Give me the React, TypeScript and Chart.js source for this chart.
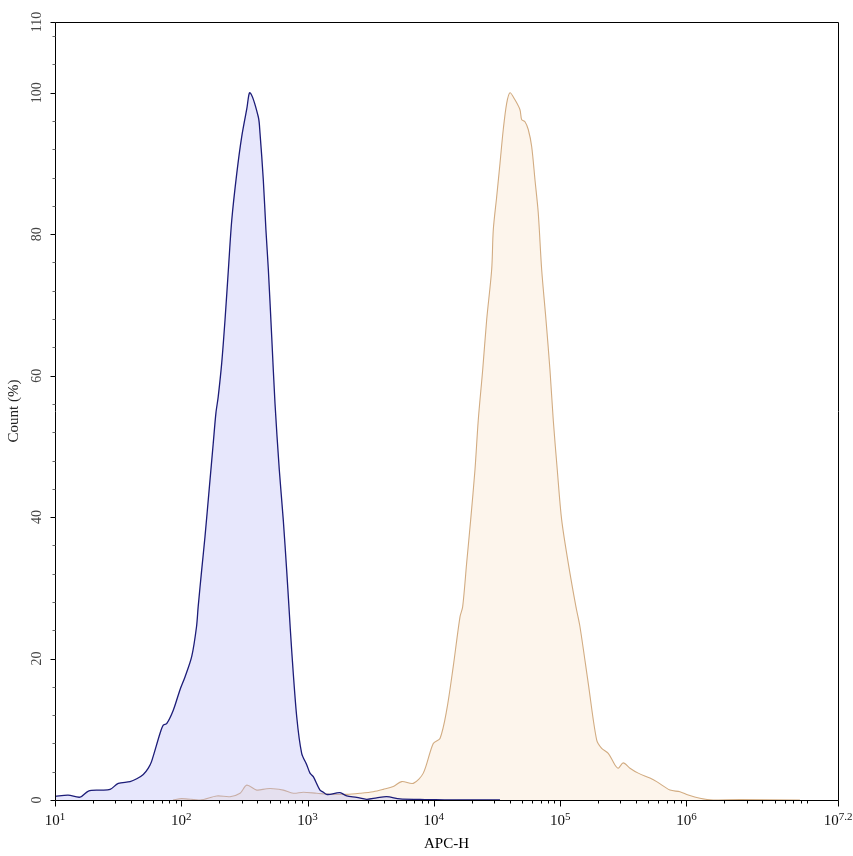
import React, { useEffect, useRef } from "react";
import { Chart, registerables } from "chart.js";

Chart.register(...registerables);

// APC-H intensity (x) and Count (%) (y) for the first (blue) histogram
const blueX = [10, 12.7, 15.8, 18.4, 22.7, 27.3, 31.7, 39.3, 44.4, 50, 54.8, 58.3, 67.8, 72, 76.6, 86.4, 97.7, 107, 121, 132, 136, 145, 154, 167, 179, 188, 196, 209, 222, 236, 251, 275, 301, 330, 350, 407, 420, 446, 468, 489, 520, 552, 597, 642, 683, 712, 748, 820, 898, 984, 1045, 1110, 1254, 1332, 1416, 1504, 1806, 2040, 2448, 2938, 3525, 4230, 5390, 7762, 9314, 13410, 19310, 33380];
const blueY = [0.5, 0.7, 0.4, 1.27, 1.4, 1.5, 2.35, 2.6, 3.0, 3.6, 4.5, 5.5, 9.4, 10.6, 10.8, 12.7, 15.6, 17.4, 20.3, 24.5, 27.3, 32.5, 37.2, 44.3, 50.4, 54.7, 57, 61.8, 67.9, 75, 82, 88.6, 93.8, 97.7, 100, 96.6, 94.3, 87.7, 80.6, 75, 65.5, 56.1, 46.7, 39.6, 32.5, 27.3, 21.2, 11.8, 6.6, 5.0, 3.8, 3.3, 1.4, 1.1, 0.8, 0.8, 1.04, 0.57, 0.38, 0.1, 0.3, 0.47, 0.15, 0.08, 0.05, 0, 0.03, 0];

// second (orange) histogram
const orangeX = [85.9, 100.7, 141, 191, 243, 292, 330, 395, 475, 535, 642, 771, 925, 1181, 1504, 2040, 2600, 3313, 3977, 4770, 5560, 6870, 8245, 9890, 11180, 12630, 14240, 16100, 16900, 18180, 19560, 21160, 22460, 24350, 26190, 28690, 29540, 31430, 33380, 35440, 37710, 40050, 43870, 48060, 49570, 52640, 55900, 59480, 63170, 67080, 71370, 77210, 83040, 88190, 94860, 102800, 115900, 133400, 143500, 166900, 194500, 213200, 240400, 271600, 288400, 315900, 357100, 415300, 514000, 580900, 740300, 888200, 1033000, 1279000, 1630000, 2652000, 7920000];
const orangeY = [0, 0.2, 0, 0.57, 0.47, 0.95, 2.1, 1.4, 1.6, 1.6, 1.4, 0.95, 1.1, 0.95, 0.8, 0.8, 0.95, 1.17, 1.5, 1.9, 2.6, 2.35, 3.8, 8.0, 8.7, 12.7, 18.9, 25.9, 27.3, 33.5, 39.6, 46.7, 53.7, 60.8, 67.9, 75, 80.6, 85.3, 90, 94.8, 98.5, 100, 99, 97.6, 96.2, 95.9, 94.8, 92.4, 87.7, 83, 75, 67.9, 60.8, 53.7, 46.7, 39.6, 33.5, 27.3, 24.5, 16.5, 8.5, 7.3, 6.6, 4.95, 4.5, 5.25, 4.5, 3.8, 3.1, 2.6, 1.4, 1.17, 0.7, 0.24, 0, 0.05, 0];

// axes
const xMinExp = 1;
const xMaxExp = 7.2;
const xTickExps = [1, 2, 3, 4, 5, 6, 7.2];
const xTickLabels = ["1", "2", "3", "4", "5", "6", "7.2"];
const yMajorTicks = [0, 20, 40, 60, 80, 100, 110];
const yMinorStep = 4;
const yMax = 110;
const xTitle = "APC-H";
const yTitle = "Count (%)";

const SERIF = "'Liberation Serif', 'Times New Roman', serif";

const axesPlugin = {
  id: "flowAxes",
  afterDraw(chart: any) {
    const { ctx, chartArea, scales } = chart;
    const { left, right, top, bottom } = chartArea;
    const xs = scales.x;
    const ys = scales.y;
    const L = Math.round(left) + 0.5;
    const R = Math.round(right) + 0.5;
    const T = Math.round(top) + 0.5;
    const B = Math.round(bottom) + 0.5;
    ctx.save();
    ctx.strokeStyle = "#000";
    ctx.lineWidth = 1;
    ctx.beginPath();
    ctx.moveTo(L, T);
    ctx.lineTo(R, T);
    ctx.lineTo(R, B);
    ctx.lineTo(L, B);
    ctx.closePath();
    ctx.stroke();

    // y minor ticks
    ctx.strokeStyle = "#666";
    ctx.beginPath();
    for (let v = 0; v <= yMax; v += yMinorStep) {
      const py = Math.round(ys.getPixelForValue(v)) + 0.5;
      ctx.moveTo(L - 3, py);
      ctx.lineTo(L, py);
    }
    ctx.stroke();
    ctx.strokeStyle = "#000";
    ctx.beginPath();
    yMajorTicks.forEach((v) => {
      const py = Math.round(ys.getPixelForValue(v)) + 0.5;
      ctx.moveTo(L - 5, py);
      ctx.lineTo(L, py);
    });
    ctx.stroke();
    ctx.fillStyle = "#444";
    ctx.font = "14px " + SERIF;
    ctx.textAlign = "center";
    ctx.textBaseline = "middle";
    yMajorTicks.forEach((v) => {
      const py = ys.getPixelForValue(v);
      ctx.save();
      ctx.translate(left - 18, py);
      ctx.rotate(-Math.PI / 2);
      ctx.fillText(String(v), 0, 0);
      ctx.restore();
    });

    // x ticks
    ctx.strokeStyle = "#000";
    ctx.beginPath();
    for (let d = Math.floor(xMinExp); d < xMaxExp; d++) {
      for (let m = 2; m <= 9; m++) {
        const val = m * Math.pow(10, d);
        if (val > Math.pow(10, xMaxExp)) break;
        const px = Math.round(xs.getPixelForValue(val)) + 0.5;
        ctx.moveTo(px, B);
        ctx.lineTo(px, B + 3);
      }
    }
    xTickExps.forEach((e) => {
      const px = Math.round(xs.getPixelForValue(Math.pow(10, e))) + 0.5;
      ctx.moveTo(px, B);
      ctx.lineTo(px, B + 6);
    });
    ctx.stroke();

    ctx.fillStyle = "#111";
    ctx.textBaseline = "alphabetic";
    ctx.textAlign = "left";
    const baseFont = "15px " + SERIF;
    const supFont = "11px " + SERIF;
    xTickExps.forEach((e, i) => {
      const px = xs.getPixelForValue(Math.pow(10, e));
      ctx.font = baseFont;
      const w1 = ctx.measureText("10").width;
      ctx.font = supFont;
      const w2 = ctx.measureText(xTickLabels[i]).width;
      const x0 = px - (w1 + w2) / 2;
      ctx.font = baseFont;
      ctx.fillText("10", x0, bottom + 25);
      ctx.font = supFont;
      ctx.fillText(xTickLabels[i], x0 + w1, bottom + 20);
    });

    ctx.fillStyle = "#000";
    ctx.font = "15px " + SERIF;
    ctx.textAlign = "center";
    ctx.fillText(xTitle, (left + right) / 2, bottom + 48);

    ctx.save();
    ctx.font = "15px " + SERIF;
    ctx.fillStyle = "#222";
    ctx.textBaseline = "middle";
    ctx.translate(14, (top + bottom) / 2);
    ctx.rotate(-Math.PI / 2);
    ctx.fillText(yTitle, 0, 0);
    ctx.restore();

    ctx.restore();
  },
};

export default function App() {
  const canvasRef = useRef<HTMLCanvasElement | null>(null);

  useEffect(() => {
    if (!canvasRef.current) return;
    const chart = new Chart(canvasRef.current, {
      type: "line",
      data: {
        datasets: [
          {
            label: "blue",
            data: blueX.map((x, i) => ({ x, y: blueY[i] })),
            borderColor: "#1c1c78",
            borderWidth: 1.3,
            backgroundColor: "rgba(180,180,245,0.32)",
            fill: "origin",
            tension: 0.3,
            pointRadius: 0,
          },
          {
            label: "orange",
            data: orangeX.map((x, i) => ({ x, y: orangeY[i] })),
            borderColor: "#d2ac82",
            borderWidth: 1.1,
            backgroundColor: "rgba(245,200,150,0.18)",
            fill: "origin",
            tension: 0.3,
            pointRadius: 0,
          },
        ],
      },
      options: {
        responsive: false,
        animation: false,
        devicePixelRatio: 1,
        layout: { padding: { left: 55, right: 15, top: 22, bottom: 56 } },
        plugins: { legend: { display: false }, tooltip: { enabled: false } },
        scales: {
          x: {
            type: "logarithmic",
            min: Math.pow(10, xMinExp),
            max: Math.pow(10, xMaxExp),
            display: false,
          },
          y: { type: "linear", min: 0, max: yMax, display: false },
        },
      },
      plugins: [axesPlugin],
    } as any);
    return () => chart.destroy();
  }, []);

  return (
    <div style={{ position: "absolute", left: 0, top: 0, width: 853, height: 856, background: "#fff" }}>
      <canvas ref={canvasRef} width={853} height={856} style={{ display: "block" }} />
    </div>
  );
}
